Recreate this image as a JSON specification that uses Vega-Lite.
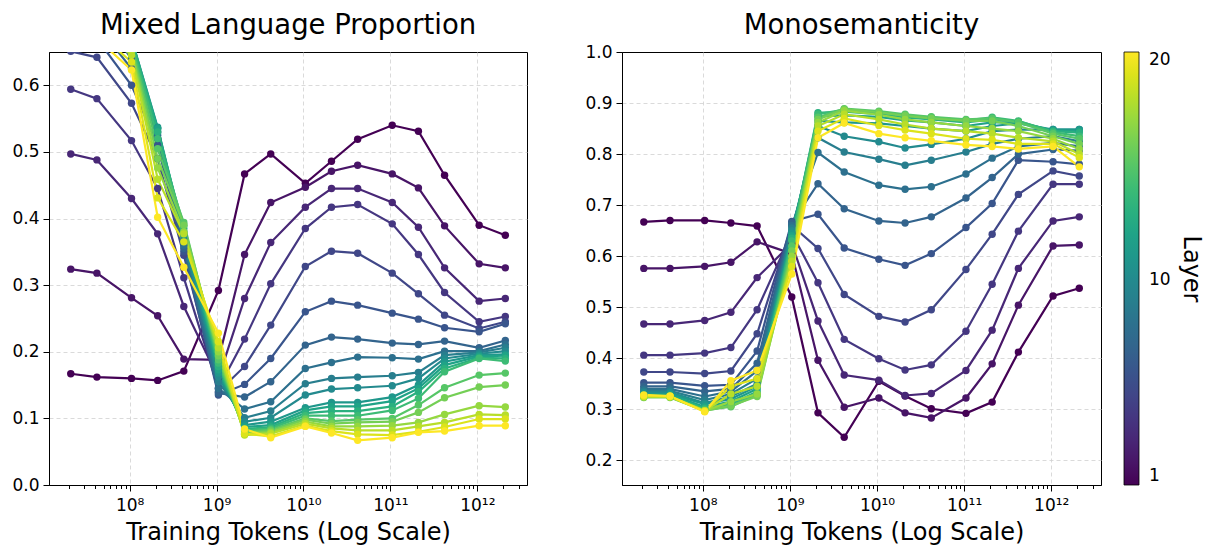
{
"$schema":"https://vega.github.io/schema/vega-lite/v6.json",
"padding":{"left":11,"top":11,"right":5,"bottom":5},
"config":{"font":"DejaVu Sans","view":{"stroke":"#000","strokeWidth":1},
"axis":{"labelFont":"DejaVu Sans","labelFontSize":17,"labelColor":"#000","tickColor":"#000","domainColor":"#000","gridColor":"#d0d0d0","gridDash":[4,3],"gridWidth":0.8,"titleFont":"DejaVu Sans","titleFontSize":24,"titleFontWeight":"normal","titleColor":"#000"},
"legend":{"labelFont":"DejaVu Sans","titleFont":"DejaVu Sans","labelColor":"#000","titleColor":"#000"}},
"datasets":{
"mixed":[
{"layer":1,"tokens":2.1e7,"value":0.167},{"layer":1,"tokens":4.2e7,"value":0.162},{"layer":1,"tokens":1.05e8,"value":0.160},{"layer":1,"tokens":2.1e8,"value":0.157},{"layer":1,"tokens":4.2e8,"value":0.171},{"layer":1,"tokens":1.05e9,"value":0.292},{"layer":1,"tokens":2.1e9,"value":0.467},{"layer":1,"tokens":4.2e9,"value":0.497},{"layer":1,"tokens":1.05e10,"value":0.453},{"layer":1,"tokens":2.1e10,"value":0.486},{"layer":1,"tokens":4.2e10,"value":0.519},{"layer":1,"tokens":1.05e11,"value":0.540},{"layer":1,"tokens":2.1e11,"value":0.531},{"layer":1,"tokens":4.2e11,"value":0.465},{"layer":1,"tokens":1.05e12,"value":0.390},{"layer":1,"tokens":2.1e12,"value":0.375},
{"layer":2,"tokens":2.1e7,"value":0.324},{"layer":2,"tokens":4.2e7,"value":0.318},{"layer":2,"tokens":1.05e8,"value":0.281},{"layer":2,"tokens":2.1e8,"value":0.254},{"layer":2,"tokens":4.2e8,"value":0.189},{"layer":2,"tokens":1.05e9,"value":0.188},{"layer":2,"tokens":2.1e9,"value":0.346},{"layer":2,"tokens":4.2e9,"value":0.424},{"layer":2,"tokens":1.05e10,"value":0.447},{"layer":2,"tokens":2.1e10,"value":0.471},{"layer":2,"tokens":4.2e10,"value":0.480},{"layer":2,"tokens":1.05e11,"value":0.467},{"layer":2,"tokens":2.1e11,"value":0.446},{"layer":2,"tokens":4.2e11,"value":0.389},{"layer":2,"tokens":1.05e12,"value":0.332},{"layer":2,"tokens":2.1e12,"value":0.326},
{"layer":3,"tokens":2.1e7,"value":0.497},{"layer":3,"tokens":4.2e7,"value":0.488},{"layer":3,"tokens":1.05e8,"value":0.430},{"layer":3,"tokens":2.1e8,"value":0.377},{"layer":3,"tokens":4.2e8,"value":0.268},{"layer":3,"tokens":1.05e9,"value":0.160},{"layer":3,"tokens":2.1e9,"value":0.280},{"layer":3,"tokens":4.2e9,"value":0.364},{"layer":3,"tokens":1.05e10,"value":0.417},{"layer":3,"tokens":2.1e10,"value":0.445},{"layer":3,"tokens":4.2e10,"value":0.445},{"layer":3,"tokens":1.05e11,"value":0.424},{"layer":3,"tokens":2.1e11,"value":0.387},{"layer":3,"tokens":4.2e11,"value":0.326},{"layer":3,"tokens":1.05e12,"value":0.276},{"layer":3,"tokens":2.1e12,"value":0.280},
{"layer":4,"tokens":2.1e7,"value":0.594},{"layer":4,"tokens":4.2e7,"value":0.580},{"layer":4,"tokens":1.05e8,"value":0.517},{"layer":4,"tokens":2.1e8,"value":0.445},{"layer":4,"tokens":4.2e8,"value":0.311},{"layer":4,"tokens":1.05e9,"value":0.145},{"layer":4,"tokens":2.1e9,"value":0.219},{"layer":4,"tokens":4.2e9,"value":0.302},{"layer":4,"tokens":1.05e10,"value":0.385},{"layer":4,"tokens":2.1e10,"value":0.417},{"layer":4,"tokens":4.2e10,"value":0.421},{"layer":4,"tokens":1.05e11,"value":0.392},{"layer":4,"tokens":2.1e11,"value":0.346},{"layer":4,"tokens":4.2e11,"value":0.289},{"layer":4,"tokens":1.05e12,"value":0.245},{"layer":4,"tokens":2.1e12,"value":0.253},
{"layer":5,"tokens":2.1e7,"value":0.651},{"layer":5,"tokens":4.2e7,"value":0.642},{"layer":5,"tokens":1.05e8,"value":0.573},{"layer":5,"tokens":2.1e8,"value":0.490},{"layer":5,"tokens":4.2e8,"value":0.345},{"layer":5,"tokens":1.05e9,"value":0.140},{"layer":5,"tokens":2.1e9,"value":0.178},{"layer":5,"tokens":4.2e9,"value":0.240},{"layer":5,"tokens":1.05e10,"value":0.328},{"layer":5,"tokens":2.1e10,"value":0.351},{"layer":5,"tokens":4.2e10,"value":0.348},{"layer":5,"tokens":1.05e11,"value":0.318},{"layer":5,"tokens":2.1e11,"value":0.287},{"layer":5,"tokens":4.2e11,"value":0.255},{"layer":5,"tokens":1.05e12,"value":0.235},{"layer":5,"tokens":2.1e12,"value":0.245},
{"layer":6,"tokens":2.1e7,"value":0.680},{"layer":6,"tokens":4.2e7,"value":0.670},{"layer":6,"tokens":1.05e8,"value":0.600},{"layer":6,"tokens":2.1e8,"value":0.510},{"layer":6,"tokens":4.2e8,"value":0.350},{"layer":6,"tokens":1.05e9,"value":0.135},{"layer":6,"tokens":2.1e9,"value":0.151},{"layer":6,"tokens":4.2e9,"value":0.190},{"layer":6,"tokens":1.05e10,"value":0.260},{"layer":6,"tokens":2.1e10,"value":0.276},{"layer":6,"tokens":4.2e10,"value":0.270},{"layer":6,"tokens":1.05e11,"value":0.258},{"layer":6,"tokens":2.1e11,"value":0.249},{"layer":6,"tokens":4.2e11,"value":0.236},{"layer":6,"tokens":1.05e12,"value":0.230},{"layer":6,"tokens":2.1e12,"value":0.242},
{"layer":7,"tokens":2.1e7,"value":0.700},{"layer":7,"tokens":4.2e7,"value":0.690},{"layer":7,"tokens":1.05e8,"value":0.625},{"layer":7,"tokens":2.1e8,"value":0.520},{"layer":7,"tokens":4.2e8,"value":0.355},{"layer":7,"tokens":1.05e9,"value":0.138},{"layer":7,"tokens":2.1e9,"value":0.132},{"layer":7,"tokens":4.2e9,"value":0.155},{"layer":7,"tokens":1.05e10,"value":0.210},{"layer":7,"tokens":2.1e10,"value":0.222},{"layer":7,"tokens":4.2e10,"value":0.219},{"layer":7,"tokens":1.05e11,"value":0.213},{"layer":7,"tokens":2.1e11,"value":0.211},{"layer":7,"tokens":4.2e11,"value":0.216},{"layer":7,"tokens":1.05e12,"value":0.206},{"layer":7,"tokens":2.1e12,"value":0.217},
{"layer":8,"tokens":2.1e7,"value":0.720},{"layer":8,"tokens":4.2e7,"value":0.710},{"layer":8,"tokens":1.05e8,"value":0.640},{"layer":8,"tokens":2.1e8,"value":0.525},{"layer":8,"tokens":4.2e8,"value":0.360},{"layer":8,"tokens":1.05e9,"value":0.145},{"layer":8,"tokens":2.1e9,"value":0.114},{"layer":8,"tokens":4.2e9,"value":0.125},{"layer":8,"tokens":1.05e10,"value":0.175},{"layer":8,"tokens":2.1e10,"value":0.184},{"layer":8,"tokens":4.2e10,"value":0.192},{"layer":8,"tokens":1.05e11,"value":0.191},{"layer":8,"tokens":2.1e11,"value":0.189},{"layer":8,"tokens":4.2e11,"value":0.201},{"layer":8,"tokens":1.05e12,"value":0.201},{"layer":8,"tokens":2.1e12,"value":0.211},
{"layer":9,"tokens":2.1e7,"value":0.730},{"layer":9,"tokens":4.2e7,"value":0.720},{"layer":9,"tokens":1.05e8,"value":0.650},{"layer":9,"tokens":2.1e8,"value":0.530},{"layer":9,"tokens":4.2e8,"value":0.365},{"layer":9,"tokens":1.05e9,"value":0.155},{"layer":9,"tokens":2.1e9,"value":0.101},{"layer":9,"tokens":4.2e9,"value":0.111},{"layer":9,"tokens":1.05e10,"value":0.152},{"layer":9,"tokens":2.1e10,"value":0.160},{"layer":9,"tokens":4.2e10,"value":0.162},{"layer":9,"tokens":1.05e11,"value":0.164},{"layer":9,"tokens":2.1e11,"value":0.169},{"layer":9,"tokens":4.2e11,"value":0.195},{"layer":9,"tokens":1.05e12,"value":0.199},{"layer":9,"tokens":2.1e12,"value":0.206},
{"layer":10,"tokens":2.1e7,"value":0.740},{"layer":10,"tokens":4.2e7,"value":0.730},{"layer":10,"tokens":1.05e8,"value":0.660},{"layer":10,"tokens":2.1e8,"value":0.535},{"layer":10,"tokens":4.2e8,"value":0.370},{"layer":10,"tokens":1.05e9,"value":0.162},{"layer":10,"tokens":2.1e9,"value":0.095},{"layer":10,"tokens":4.2e9,"value":0.101},{"layer":10,"tokens":1.05e10,"value":0.135},{"layer":10,"tokens":2.1e10,"value":0.144},{"layer":10,"tokens":4.2e10,"value":0.146},{"layer":10,"tokens":1.05e11,"value":0.149},{"layer":10,"tokens":2.1e11,"value":0.160},{"layer":10,"tokens":4.2e11,"value":0.190},{"layer":10,"tokens":1.05e12,"value":0.197},{"layer":10,"tokens":2.1e12,"value":0.201},
{"layer":11,"tokens":2.1e7,"value":0.750},{"layer":11,"tokens":4.2e7,"value":0.740},{"layer":11,"tokens":1.05e8,"value":0.670},{"layer":11,"tokens":2.1e8,"value":0.537},{"layer":11,"tokens":4.2e8,"value":0.375},{"layer":11,"tokens":1.05e9,"value":0.168},{"layer":11,"tokens":2.1e9,"value":0.090},{"layer":11,"tokens":4.2e9,"value":0.095},{"layer":11,"tokens":1.05e10,"value":0.116},{"layer":11,"tokens":2.1e10,"value":0.124},{"layer":11,"tokens":4.2e10,"value":0.124},{"layer":11,"tokens":1.05e11,"value":0.132},{"layer":11,"tokens":2.1e11,"value":0.150},{"layer":11,"tokens":4.2e11,"value":0.185},{"layer":11,"tokens":1.05e12,"value":0.195},{"layer":11,"tokens":2.1e12,"value":0.196},
{"layer":12,"tokens":2.1e7,"value":0.750},{"layer":12,"tokens":4.2e7,"value":0.740},{"layer":12,"tokens":1.05e8,"value":0.670},{"layer":12,"tokens":2.1e8,"value":0.535},{"layer":12,"tokens":4.2e8,"value":0.380},{"layer":12,"tokens":1.05e9,"value":0.173},{"layer":12,"tokens":2.1e9,"value":0.087},{"layer":12,"tokens":4.2e9,"value":0.090},{"layer":12,"tokens":1.05e10,"value":0.112},{"layer":12,"tokens":2.1e10,"value":0.118},{"layer":12,"tokens":4.2e10,"value":0.118},{"layer":12,"tokens":1.05e11,"value":0.126},{"layer":12,"tokens":2.1e11,"value":0.145},{"layer":12,"tokens":4.2e11,"value":0.180},{"layer":12,"tokens":1.05e12,"value":0.193},{"layer":12,"tokens":2.1e12,"value":0.194},
{"layer":13,"tokens":2.1e7,"value":0.750},{"layer":13,"tokens":4.2e7,"value":0.740},{"layer":13,"tokens":1.05e8,"value":0.670},{"layer":13,"tokens":2.1e8,"value":0.530},{"layer":13,"tokens":4.2e8,"value":0.385},{"layer":13,"tokens":1.05e9,"value":0.178},{"layer":13,"tokens":2.1e9,"value":0.084},{"layer":13,"tokens":4.2e9,"value":0.087},{"layer":13,"tokens":1.05e10,"value":0.108},{"layer":13,"tokens":2.1e10,"value":0.111},{"layer":13,"tokens":4.2e10,"value":0.111},{"layer":13,"tokens":1.05e11,"value":0.118},{"layer":13,"tokens":2.1e11,"value":0.140},{"layer":13,"tokens":4.2e11,"value":0.175},{"layer":13,"tokens":1.05e12,"value":0.191},{"layer":13,"tokens":2.1e12,"value":0.190},
{"layer":14,"tokens":2.1e7,"value":0.740},{"layer":14,"tokens":4.2e7,"value":0.730},{"layer":14,"tokens":1.05e8,"value":0.665},{"layer":14,"tokens":2.1e8,"value":0.520},{"layer":14,"tokens":4.2e8,"value":0.390},{"layer":14,"tokens":1.05e9,"value":0.183},{"layer":14,"tokens":2.1e9,"value":0.082},{"layer":14,"tokens":4.2e9,"value":0.085},{"layer":14,"tokens":1.05e10,"value":0.104},{"layer":14,"tokens":2.1e10,"value":0.104},{"layer":14,"tokens":4.2e10,"value":0.104},{"layer":14,"tokens":1.05e11,"value":0.112},{"layer":14,"tokens":2.1e11,"value":0.130},{"layer":14,"tokens":4.2e11,"value":0.170},{"layer":14,"tokens":1.05e12,"value":0.190},{"layer":14,"tokens":2.1e12,"value":0.186},
{"layer":15,"tokens":2.1e7,"value":0.730},{"layer":15,"tokens":4.2e7,"value":0.720},{"layer":15,"tokens":1.05e8,"value":0.660},{"layer":15,"tokens":2.1e8,"value":0.505},{"layer":15,"tokens":4.2e8,"value":0.394},{"layer":15,"tokens":1.05e9,"value":0.188},{"layer":15,"tokens":2.1e9,"value":0.080},{"layer":15,"tokens":4.2e9,"value":0.083},{"layer":15,"tokens":1.05e10,"value":0.100},{"layer":15,"tokens":2.1e10,"value":0.096},{"layer":15,"tokens":4.2e10,"value":0.098},{"layer":15,"tokens":1.05e11,"value":0.100},{"layer":15,"tokens":2.1e11,"value":0.120},{"layer":15,"tokens":4.2e11,"value":0.146},{"layer":15,"tokens":1.05e12,"value":0.165},{"layer":15,"tokens":2.1e12,"value":0.168},
{"layer":16,"tokens":2.1e7,"value":0.720},{"layer":16,"tokens":4.2e7,"value":0.710},{"layer":16,"tokens":1.05e8,"value":0.655},{"layer":16,"tokens":2.1e8,"value":0.490},{"layer":16,"tokens":4.2e8,"value":0.390},{"layer":16,"tokens":1.05e9,"value":0.194},{"layer":16,"tokens":2.1e9,"value":0.078},{"layer":16,"tokens":4.2e9,"value":0.081},{"layer":16,"tokens":1.05e10,"value":0.098},{"layer":16,"tokens":2.1e10,"value":0.092},{"layer":16,"tokens":4.2e10,"value":0.094},{"layer":16,"tokens":1.05e11,"value":0.095},{"layer":16,"tokens":2.1e11,"value":0.109},{"layer":16,"tokens":4.2e11,"value":0.131},{"layer":16,"tokens":1.05e12,"value":0.147},{"layer":16,"tokens":2.1e12,"value":0.150},
{"layer":17,"tokens":2.1e7,"value":0.710},{"layer":17,"tokens":4.2e7,"value":0.700},{"layer":17,"tokens":1.05e8,"value":0.650},{"layer":17,"tokens":2.1e8,"value":0.476},{"layer":17,"tokens":4.2e8,"value":0.380},{"layer":17,"tokens":1.05e9,"value":0.200},{"layer":17,"tokens":2.1e9,"value":0.076},{"layer":17,"tokens":4.2e9,"value":0.079},{"layer":17,"tokens":1.05e10,"value":0.095},{"layer":17,"tokens":2.1e10,"value":0.088},{"layer":17,"tokens":4.2e10,"value":0.088},{"layer":17,"tokens":1.05e11,"value":0.089},{"layer":17,"tokens":2.1e11,"value":0.094},{"layer":17,"tokens":4.2e11,"value":0.106},{"layer":17,"tokens":1.05e12,"value":0.119},{"layer":17,"tokens":2.1e12,"value":0.117},
{"layer":18,"tokens":2.1e7,"value":0.700},{"layer":18,"tokens":4.2e7,"value":0.690},{"layer":18,"tokens":1.05e8,"value":0.645},{"layer":18,"tokens":2.1e8,"value":0.459},{"layer":18,"tokens":4.2e8,"value":0.377},{"layer":18,"tokens":1.05e9,"value":0.206},{"layer":18,"tokens":2.1e9,"value":0.075},{"layer":18,"tokens":4.2e9,"value":0.077},{"layer":18,"tokens":1.05e10,"value":0.092},{"layer":18,"tokens":2.1e10,"value":0.085},{"layer":18,"tokens":4.2e10,"value":0.082},{"layer":18,"tokens":1.05e11,"value":0.082},{"layer":18,"tokens":2.1e11,"value":0.088},{"layer":18,"tokens":4.2e11,"value":0.094},{"layer":18,"tokens":1.05e12,"value":0.106},{"layer":18,"tokens":2.1e12,"value":0.105},
{"layer":19,"tokens":2.1e7,"value":0.690},{"layer":19,"tokens":4.2e7,"value":0.680},{"layer":19,"tokens":1.05e8,"value":0.635},{"layer":19,"tokens":2.1e8,"value":0.431},{"layer":19,"tokens":4.2e8,"value":0.365},{"layer":19,"tokens":1.05e9,"value":0.215},{"layer":19,"tokens":2.1e9,"value":0.077},{"layer":19,"tokens":4.2e9,"value":0.073},{"layer":19,"tokens":1.05e10,"value":0.089},{"layer":19,"tokens":2.1e10,"value":0.081},{"layer":19,"tokens":4.2e10,"value":0.076},{"layer":19,"tokens":1.05e11,"value":0.075},{"layer":19,"tokens":2.1e11,"value":0.080},{"layer":19,"tokens":4.2e11,"value":0.087},{"layer":19,"tokens":1.05e12,"value":0.099},{"layer":19,"tokens":2.1e12,"value":0.099},
{"layer":20,"tokens":2.1e7,"value":0.680},{"layer":20,"tokens":4.2e7,"value":0.670},{"layer":20,"tokens":1.05e8,"value":0.623},{"layer":20,"tokens":2.1e8,"value":0.402},{"layer":20,"tokens":4.2e8,"value":0.327},{"layer":20,"tokens":1.05e9,"value":0.228},{"layer":20,"tokens":2.1e9,"value":0.084},{"layer":20,"tokens":4.2e9,"value":0.071},{"layer":20,"tokens":1.05e10,"value":0.088},{"layer":20,"tokens":2.1e10,"value":0.078},{"layer":20,"tokens":4.2e10,"value":0.067},{"layer":20,"tokens":1.05e11,"value":0.071},{"layer":20,"tokens":2.1e11,"value":0.079},{"layer":20,"tokens":4.2e11,"value":0.081},{"layer":20,"tokens":1.05e12,"value":0.089},{"layer":20,"tokens":2.1e12,"value":0.089}
],
"mono":[
{"layer":1,"tokens":2.1e7,"value":0.667},{"layer":1,"tokens":4.2e7,"value":0.670},{"layer":1,"tokens":1.05e8,"value":0.670},{"layer":1,"tokens":2.1e8,"value":0.665},{"layer":1,"tokens":4.2e8,"value":0.659},{"layer":1,"tokens":1.05e9,"value":0.520},{"layer":1,"tokens":2.1e9,"value":0.293},{"layer":1,"tokens":4.2e9,"value":0.245},{"layer":1,"tokens":1.05e10,"value":0.355},{"layer":1,"tokens":2.1e10,"value":0.326},{"layer":1,"tokens":4.2e10,"value":0.301},{"layer":1,"tokens":1.05e11,"value":0.292},{"layer":1,"tokens":2.1e11,"value":0.314},{"layer":1,"tokens":4.2e11,"value":0.412},{"layer":1,"tokens":1.05e12,"value":0.522},{"layer":1,"tokens":2.1e12,"value":0.537},
{"layer":2,"tokens":2.1e7,"value":0.576},{"layer":2,"tokens":4.2e7,"value":0.576},{"layer":2,"tokens":1.05e8,"value":0.580},{"layer":2,"tokens":2.1e8,"value":0.588},{"layer":2,"tokens":4.2e8,"value":0.628},{"layer":2,"tokens":1.05e9,"value":0.605},{"layer":2,"tokens":2.1e9,"value":0.396},{"layer":2,"tokens":4.2e9,"value":0.304},{"layer":2,"tokens":1.05e10,"value":0.322},{"layer":2,"tokens":2.1e10,"value":0.293},{"layer":2,"tokens":4.2e10,"value":0.283},{"layer":2,"tokens":1.05e11,"value":0.322},{"layer":2,"tokens":2.1e11,"value":0.389},{"layer":2,"tokens":4.2e11,"value":0.504},{"layer":2,"tokens":1.05e12,"value":0.620},{"layer":2,"tokens":2.1e12,"value":0.622},
{"layer":3,"tokens":2.1e7,"value":0.467},{"layer":3,"tokens":4.2e7,"value":0.467},{"layer":3,"tokens":1.05e8,"value":0.474},{"layer":3,"tokens":2.1e8,"value":0.490},{"layer":3,"tokens":4.2e8,"value":0.558},{"layer":3,"tokens":1.05e9,"value":0.625},{"layer":3,"tokens":2.1e9,"value":0.473},{"layer":3,"tokens":4.2e9,"value":0.367},{"layer":3,"tokens":1.05e10,"value":0.357},{"layer":3,"tokens":2.1e10,"value":0.327},{"layer":3,"tokens":4.2e10,"value":0.331},{"layer":3,"tokens":1.05e11,"value":0.376},{"layer":3,"tokens":2.1e11,"value":0.455},{"layer":3,"tokens":4.2e11,"value":0.576},{"layer":3,"tokens":1.05e12,"value":0.669},{"layer":3,"tokens":2.1e12,"value":0.677},
{"layer":4,"tokens":2.1e7,"value":0.406},{"layer":4,"tokens":4.2e7,"value":0.406},{"layer":4,"tokens":1.05e8,"value":0.410},{"layer":4,"tokens":2.1e8,"value":0.421},{"layer":4,"tokens":4.2e8,"value":0.495},{"layer":4,"tokens":1.05e9,"value":0.645},{"layer":4,"tokens":2.1e9,"value":0.548},{"layer":4,"tokens":4.2e9,"value":0.437},{"layer":4,"tokens":1.05e10,"value":0.399},{"layer":4,"tokens":2.1e10,"value":0.377},{"layer":4,"tokens":4.2e10,"value":0.387},{"layer":4,"tokens":1.05e11,"value":0.453},{"layer":4,"tokens":2.1e11,"value":0.545},{"layer":4,"tokens":4.2e11,"value":0.649},{"layer":4,"tokens":1.05e12,"value":0.741},{"layer":4,"tokens":2.1e12,"value":0.741},
{"layer":5,"tokens":2.1e7,"value":0.373},{"layer":5,"tokens":4.2e7,"value":0.373},{"layer":5,"tokens":1.05e8,"value":0.370},{"layer":5,"tokens":2.1e8,"value":0.375},{"layer":5,"tokens":4.2e8,"value":0.448},{"layer":5,"tokens":1.05e9,"value":0.660},{"layer":5,"tokens":2.1e9,"value":0.615},{"layer":5,"tokens":4.2e9,"value":0.525},{"layer":5,"tokens":1.05e10,"value":0.482},{"layer":5,"tokens":2.1e10,"value":0.471},{"layer":5,"tokens":4.2e10,"value":0.495},{"layer":5,"tokens":1.05e11,"value":0.574},{"layer":5,"tokens":2.1e11,"value":0.643},{"layer":5,"tokens":4.2e11,"value":0.721},{"layer":5,"tokens":1.05e12,"value":0.767},{"layer":5,"tokens":2.1e12,"value":0.757},
{"layer":6,"tokens":2.1e7,"value":0.352},{"layer":6,"tokens":4.2e7,"value":0.352},{"layer":6,"tokens":1.05e8,"value":0.346},{"layer":6,"tokens":2.1e8,"value":0.348},{"layer":6,"tokens":4.2e8,"value":0.414},{"layer":6,"tokens":1.05e9,"value":0.668},{"layer":6,"tokens":2.1e9,"value":0.682},{"layer":6,"tokens":4.2e9,"value":0.616},{"layer":6,"tokens":1.05e10,"value":0.594},{"layer":6,"tokens":2.1e10,"value":0.582},{"layer":6,"tokens":4.2e10,"value":0.605},{"layer":6,"tokens":1.05e11,"value":0.656},{"layer":6,"tokens":2.1e11,"value":0.703},{"layer":6,"tokens":4.2e11,"value":0.788},{"layer":6,"tokens":1.05e12,"value":0.785},{"layer":6,"tokens":2.1e12,"value":0.780},
{"layer":7,"tokens":2.1e7,"value":0.345},{"layer":7,"tokens":4.2e7,"value":0.345},{"layer":7,"tokens":1.05e8,"value":0.335},{"layer":7,"tokens":2.1e8,"value":0.340},{"layer":7,"tokens":4.2e8,"value":0.390},{"layer":7,"tokens":1.05e9,"value":0.665},{"layer":7,"tokens":2.1e9,"value":0.742},{"layer":7,"tokens":4.2e9,"value":0.693},{"layer":7,"tokens":1.05e10,"value":0.669},{"layer":7,"tokens":2.1e10,"value":0.665},{"layer":7,"tokens":4.2e10,"value":0.677},{"layer":7,"tokens":1.05e11,"value":0.714},{"layer":7,"tokens":2.1e11,"value":0.754},{"layer":7,"tokens":4.2e11,"value":0.800},{"layer":7,"tokens":1.05e12,"value":0.809},{"layer":7,"tokens":2.1e12,"value":0.807},
{"layer":8,"tokens":2.1e7,"value":0.340},{"layer":8,"tokens":4.2e7,"value":0.340},{"layer":8,"tokens":1.05e8,"value":0.325},{"layer":8,"tokens":2.1e8,"value":0.335},{"layer":8,"tokens":4.2e8,"value":0.375},{"layer":8,"tokens":1.05e9,"value":0.660},{"layer":8,"tokens":2.1e9,"value":0.803},{"layer":8,"tokens":4.2e9,"value":0.765},{"layer":8,"tokens":1.05e10,"value":0.739},{"layer":8,"tokens":2.1e10,"value":0.731},{"layer":8,"tokens":4.2e10,"value":0.736},{"layer":8,"tokens":1.05e11,"value":0.761},{"layer":8,"tokens":2.1e11,"value":0.792},{"layer":8,"tokens":4.2e11,"value":0.815},{"layer":8,"tokens":1.05e12,"value":0.822},{"layer":8,"tokens":2.1e12,"value":0.815},
{"layer":9,"tokens":2.1e7,"value":0.336},{"layer":9,"tokens":4.2e7,"value":0.336},{"layer":9,"tokens":1.05e8,"value":0.318},{"layer":9,"tokens":2.1e8,"value":0.330},{"layer":9,"tokens":4.2e8,"value":0.360},{"layer":9,"tokens":1.05e9,"value":0.655},{"layer":9,"tokens":2.1e9,"value":0.832},{"layer":9,"tokens":4.2e9,"value":0.804},{"layer":9,"tokens":1.05e10,"value":0.790},{"layer":9,"tokens":2.1e10,"value":0.778},{"layer":9,"tokens":4.2e10,"value":0.788},{"layer":9,"tokens":1.05e11,"value":0.804},{"layer":9,"tokens":2.1e11,"value":0.820},{"layer":9,"tokens":4.2e11,"value":0.830},{"layer":9,"tokens":1.05e12,"value":0.835},{"layer":9,"tokens":2.1e12,"value":0.825},
{"layer":10,"tokens":2.1e7,"value":0.333},{"layer":10,"tokens":4.2e7,"value":0.333},{"layer":10,"tokens":1.05e8,"value":0.312},{"layer":10,"tokens":2.1e8,"value":0.325},{"layer":10,"tokens":4.2e8,"value":0.350},{"layer":10,"tokens":1.05e9,"value":0.650},{"layer":10,"tokens":2.1e9,"value":0.855},{"layer":10,"tokens":4.2e9,"value":0.835},{"layer":10,"tokens":1.05e10,"value":0.824},{"layer":10,"tokens":2.1e10,"value":0.812},{"layer":10,"tokens":4.2e10,"value":0.819},{"layer":10,"tokens":1.05e11,"value":0.830},{"layer":10,"tokens":2.1e11,"value":0.845},{"layer":10,"tokens":4.2e11,"value":0.848},{"layer":10,"tokens":1.05e12,"value":0.848},{"layer":10,"tokens":2.1e12,"value":0.848},
{"layer":11,"tokens":2.1e7,"value":0.330},{"layer":11,"tokens":4.2e7,"value":0.330},{"layer":11,"tokens":1.05e8,"value":0.310},{"layer":11,"tokens":2.1e8,"value":0.320},{"layer":11,"tokens":4.2e8,"value":0.345},{"layer":11,"tokens":1.05e9,"value":0.645},{"layer":11,"tokens":2.1e9,"value":0.865},{"layer":11,"tokens":4.2e9,"value":0.862},{"layer":11,"tokens":1.05e10,"value":0.860},{"layer":11,"tokens":2.1e10,"value":0.855},{"layer":11,"tokens":4.2e10,"value":0.850},{"layer":11,"tokens":1.05e11,"value":0.845},{"layer":11,"tokens":2.1e11,"value":0.855},{"layer":11,"tokens":4.2e11,"value":0.860},{"layer":11,"tokens":1.05e12,"value":0.848},{"layer":11,"tokens":2.1e12,"value":0.848},
{"layer":12,"tokens":2.1e7,"value":0.328},{"layer":12,"tokens":4.2e7,"value":0.328},{"layer":12,"tokens":1.05e8,"value":0.305},{"layer":12,"tokens":2.1e8,"value":0.315},{"layer":12,"tokens":4.2e8,"value":0.340},{"layer":12,"tokens":1.05e9,"value":0.640},{"layer":12,"tokens":2.1e9,"value":0.874},{"layer":12,"tokens":4.2e9,"value":0.876},{"layer":12,"tokens":1.05e10,"value":0.873},{"layer":12,"tokens":2.1e10,"value":0.866},{"layer":12,"tokens":4.2e10,"value":0.862},{"layer":12,"tokens":1.05e11,"value":0.855},{"layer":12,"tokens":2.1e11,"value":0.862},{"layer":12,"tokens":4.2e11,"value":0.862},{"layer":12,"tokens":1.05e12,"value":0.846},{"layer":12,"tokens":2.1e12,"value":0.845},
{"layer":13,"tokens":2.1e7,"value":0.326},{"layer":13,"tokens":4.2e7,"value":0.326},{"layer":13,"tokens":1.05e8,"value":0.302},{"layer":13,"tokens":2.1e8,"value":0.310},{"layer":13,"tokens":4.2e8,"value":0.335},{"layer":13,"tokens":1.05e9,"value":0.635},{"layer":13,"tokens":2.1e9,"value":0.881},{"layer":13,"tokens":4.2e9,"value":0.883},{"layer":13,"tokens":1.05e10,"value":0.878},{"layer":13,"tokens":2.1e10,"value":0.872},{"layer":13,"tokens":4.2e10,"value":0.868},{"layer":13,"tokens":1.05e11,"value":0.862},{"layer":13,"tokens":2.1e11,"value":0.868},{"layer":13,"tokens":4.2e11,"value":0.864},{"layer":13,"tokens":1.05e12,"value":0.845},{"layer":13,"tokens":2.1e12,"value":0.842},
{"layer":14,"tokens":2.1e7,"value":0.325},{"layer":14,"tokens":4.2e7,"value":0.325},{"layer":14,"tokens":1.05e8,"value":0.300},{"layer":14,"tokens":2.1e8,"value":0.307},{"layer":14,"tokens":4.2e8,"value":0.330},{"layer":14,"tokens":1.05e9,"value":0.630},{"layer":14,"tokens":2.1e9,"value":0.878},{"layer":14,"tokens":4.2e9,"value":0.887},{"layer":14,"tokens":1.05e10,"value":0.881},{"layer":14,"tokens":2.1e10,"value":0.876},{"layer":14,"tokens":4.2e10,"value":0.872},{"layer":14,"tokens":1.05e11,"value":0.866},{"layer":14,"tokens":2.1e11,"value":0.872},{"layer":14,"tokens":4.2e11,"value":0.865},{"layer":14,"tokens":1.05e12,"value":0.843},{"layer":14,"tokens":2.1e12,"value":0.835},
{"layer":15,"tokens":2.1e7,"value":0.324},{"layer":15,"tokens":4.2e7,"value":0.324},{"layer":15,"tokens":1.05e8,"value":0.298},{"layer":15,"tokens":2.1e8,"value":0.305},{"layer":15,"tokens":4.2e8,"value":0.328},{"layer":15,"tokens":1.05e9,"value":0.620},{"layer":15,"tokens":2.1e9,"value":0.872},{"layer":15,"tokens":4.2e9,"value":0.889},{"layer":15,"tokens":1.05e10,"value":0.884},{"layer":15,"tokens":2.1e10,"value":0.878},{"layer":15,"tokens":4.2e10,"value":0.873},{"layer":15,"tokens":1.05e11,"value":0.868},{"layer":15,"tokens":2.1e11,"value":0.870},{"layer":15,"tokens":4.2e11,"value":0.862},{"layer":15,"tokens":1.05e12,"value":0.840},{"layer":15,"tokens":2.1e12,"value":0.830},
{"layer":16,"tokens":2.1e7,"value":0.323},{"layer":16,"tokens":4.2e7,"value":0.323},{"layer":16,"tokens":1.05e8,"value":0.297},{"layer":16,"tokens":2.1e8,"value":0.307},{"layer":16,"tokens":4.2e8,"value":0.325},{"layer":16,"tokens":1.05e9,"value":0.610},{"layer":16,"tokens":2.1e9,"value":0.868},{"layer":16,"tokens":4.2e9,"value":0.888},{"layer":16,"tokens":1.05e10,"value":0.882},{"layer":16,"tokens":2.1e10,"value":0.875},{"layer":16,"tokens":4.2e10,"value":0.870},{"layer":16,"tokens":1.05e11,"value":0.865},{"layer":16,"tokens":2.1e11,"value":0.865},{"layer":16,"tokens":4.2e11,"value":0.855},{"layer":16,"tokens":1.05e12,"value":0.835},{"layer":16,"tokens":2.1e12,"value":0.820},
{"layer":17,"tokens":2.1e7,"value":0.324},{"layer":17,"tokens":4.2e7,"value":0.324},{"layer":17,"tokens":1.05e8,"value":0.297},{"layer":17,"tokens":2.1e8,"value":0.315},{"layer":17,"tokens":4.2e8,"value":0.330},{"layer":17,"tokens":1.05e9,"value":0.600},{"layer":17,"tokens":2.1e9,"value":0.862},{"layer":17,"tokens":4.2e9,"value":0.885},{"layer":17,"tokens":1.05e10,"value":0.877},{"layer":17,"tokens":2.1e10,"value":0.868},{"layer":17,"tokens":4.2e10,"value":0.862},{"layer":17,"tokens":1.05e11,"value":0.855},{"layer":17,"tokens":2.1e11,"value":0.850},{"layer":17,"tokens":4.2e11,"value":0.845},{"layer":17,"tokens":1.05e12,"value":0.830},{"layer":17,"tokens":2.1e12,"value":0.810},
{"layer":18,"tokens":2.1e7,"value":0.325},{"layer":18,"tokens":4.2e7,"value":0.325},{"layer":18,"tokens":1.05e8,"value":0.297},{"layer":18,"tokens":2.1e8,"value":0.330},{"layer":18,"tokens":4.2e8,"value":0.345},{"layer":18,"tokens":1.05e9,"value":0.590},{"layer":18,"tokens":2.1e9,"value":0.855},{"layer":18,"tokens":4.2e9,"value":0.878},{"layer":18,"tokens":1.05e10,"value":0.868},{"layer":18,"tokens":2.1e10,"value":0.858},{"layer":18,"tokens":4.2e10,"value":0.850},{"layer":18,"tokens":1.05e11,"value":0.845},{"layer":18,"tokens":2.1e11,"value":0.840},{"layer":18,"tokens":4.2e11,"value":0.832},{"layer":18,"tokens":1.05e12,"value":0.825},{"layer":18,"tokens":2.1e12,"value":0.800},
{"layer":19,"tokens":2.1e7,"value":0.326},{"layer":19,"tokens":4.2e7,"value":0.325},{"layer":19,"tokens":1.05e8,"value":0.296},{"layer":19,"tokens":2.1e8,"value":0.345},{"layer":19,"tokens":4.2e8,"value":0.360},{"layer":19,"tokens":1.05e9,"value":0.580},{"layer":19,"tokens":2.1e9,"value":0.845},{"layer":19,"tokens":4.2e9,"value":0.870},{"layer":19,"tokens":1.05e10,"value":0.856},{"layer":19,"tokens":2.1e10,"value":0.847},{"layer":19,"tokens":4.2e10,"value":0.840},{"layer":19,"tokens":1.05e11,"value":0.830},{"layer":19,"tokens":2.1e11,"value":0.828},{"layer":19,"tokens":4.2e11,"value":0.820},{"layer":19,"tokens":1.05e12,"value":0.820},{"layer":19,"tokens":2.1e12,"value":0.793},
{"layer":20,"tokens":2.1e7,"value":0.328},{"layer":20,"tokens":4.2e7,"value":0.326},{"layer":20,"tokens":1.05e8,"value":0.295},{"layer":20,"tokens":2.1e8,"value":0.356},{"layer":20,"tokens":4.2e8,"value":0.376},{"layer":20,"tokens":1.05e9,"value":0.565},{"layer":20,"tokens":2.1e9,"value":0.832},{"layer":20,"tokens":4.2e9,"value":0.861},{"layer":20,"tokens":1.05e10,"value":0.840},{"layer":20,"tokens":2.1e10,"value":0.832},{"layer":20,"tokens":4.2e10,"value":0.826},{"layer":20,"tokens":1.05e11,"value":0.818},{"layer":20,"tokens":2.1e11,"value":0.815},{"layer":20,"tokens":4.2e11,"value":0.810},{"layer":20,"tokens":1.05e12,"value":0.815},{"layer":20,"tokens":2.1e12,"value":0.775}
]},
"spacing":56,
"resolve":{"scale":{"y":"independent","x":"independent"}},
"hconcat":[
{"width":478,"height":433,
"title":{"text":"Mixed Language Proportion","fontSize":27.5,"fontWeight":"normal","baseline":"alphabetic","offset":-9,"color":"#000","font":"DejaVu Sans"},
"data":{"name":"mixed"},
"encoding":{
"x":{"field":"tokens","type":"quantitative","scale":{"type":"log","domain":[1.18e7,3.73e12],"nice":false},
"axis":{"values":[2e7,3e7,4e7,5e7,6e7,7e7,8e7,9e7,1e8,2e8,3e8,4e8,5e8,6e8,7e8,8e8,9e8,1e9,2e9,3e9,4e9,5e9,6e9,7e9,8e9,9e9,1e10,2e10,3e10,4e10,5e10,6e10,7e10,8e10,9e10,1e11,2e11,3e11,4e11,5e11,6e11,7e11,8e11,9e11,1e12,2e12,3e12],
"labelExpr":"datum.value == 1e8 ? '10⁸' : datum.value == 1e9 ? '10⁹' : datum.value == 1e10 ? '10¹⁰' : datum.value == 1e11 ? '10¹¹' : datum.value == 1e12 ? '10¹²' : ''",
"labelOverlap":false,"labelFlush":false,"labelPadding":6,
"tickSize":{"condition":{"test":"indexof([1e8,1e9,1e10,1e11,1e12], datum.value) >= 0","value":6},"value":3.5},
"gridOpacity":{"condition":{"test":"indexof([1e8,1e9,1e10,1e11,1e12], datum.value) >= 0","value":1},"value":0},
"title":"Training Tokens (Log Scale)","titlePadding":7}},
"y":{"field":"value","type":"quantitative","scale":{"domain":[0,0.65],"nice":false,"zero":false},
"axis":{"values":[0,0.1,0.2,0.3,0.4,0.5,0.6],"format":".1f","tickSize":6,"labelPadding":4,"title":null,
"gridOpacity":{"condition":{"test":"datum.value == 0","value":0},"value":1}}},
"detail":{"field":"layer","type":"nominal"}},
"layer":[
{"mark":{"type":"line","strokeWidth":2.2,"clip":true},
"encoding":{"stroke":{"field":"layer","type":"quantitative","scale":{"scheme":"viridis","zero":false,"nice":false},"legend":null}}},
{"mark":{"type":"point","filled":true,"size":55,"opacity":1,"strokeWidth":0,"clip":true},
"encoding":{"fill":{"field":"layer","type":"quantitative","scale":{"scheme":"viridis","domain":[1,20]},
"legend":{"type":"gradient","direction":"vertical","orient":"right","offset":22,"gradientLength":433,"gradientThickness":15,"values":[1,10,20],"labelFontSize":17,"labelOffset":10,"title":"Layer","titleFontSize":24,"titleFontWeight":"normal","titleOrient":"right","titleAnchor":"middle","titlePadding":8,"gradientStrokeColor":"#000","gradientStrokeWidth":0.8,
"encode":{"title":{"angle":{"value":-90},"baseline":{"value":"top"}}}}}}}
]},
{"width":479,"height":433,
"title":{"text":"Monosemanticity","fontSize":27.5,"fontWeight":"normal","baseline":"alphabetic","offset":-18,"color":"#000","font":"DejaVu Sans"},
"data":{"name":"mono"},
"encoding":{
"x":{"field":"tokens","type":"quantitative","scale":{"type":"log","domain":[1.18e7,3.73e12],"nice":false},
"axis":{"values":[2e7,3e7,4e7,5e7,6e7,7e7,8e7,9e7,1e8,2e8,3e8,4e8,5e8,6e8,7e8,8e8,9e8,1e9,2e9,3e9,4e9,5e9,6e9,7e9,8e9,9e9,1e10,2e10,3e10,4e10,5e10,6e10,7e10,8e10,9e10,1e11,2e11,3e11,4e11,5e11,6e11,7e11,8e11,9e11,1e12,2e12,3e12],
"labelExpr":"datum.value == 1e8 ? '10⁸' : datum.value == 1e9 ? '10⁹' : datum.value == 1e10 ? '10¹⁰' : datum.value == 1e11 ? '10¹¹' : datum.value == 1e12 ? '10¹²' : ''",
"labelOverlap":false,"labelFlush":false,"labelPadding":6,
"tickSize":{"condition":{"test":"indexof([1e8,1e9,1e10,1e11,1e12], datum.value) >= 0","value":6},"value":3.5},
"gridOpacity":{"condition":{"test":"indexof([1e8,1e9,1e10,1e11,1e12], datum.value) >= 0","value":1},"value":0},
"title":"Training Tokens (Log Scale)","titlePadding":7}},
"y":{"field":"value","type":"quantitative","scale":{"domain":[0.1516,1.0],"nice":false,"zero":false},
"axis":{"values":[0.2,0.3,0.4,0.5,0.6,0.7,0.8,0.9,1.0],"format":".1f","tickSize":6,"labelPadding":4,"title":null,
"gridOpacity":{"condition":{"test":"datum.value == 1","value":0},"value":1}}},
"detail":{"field":"layer","type":"nominal"}},
"layer":[
{"mark":{"type":"line","strokeWidth":2.2,"clip":true},
"encoding":{"stroke":{"field":"layer","type":"quantitative","scale":{"scheme":"viridis","zero":false,"nice":false},"legend":null}}},
{"mark":{"type":"point","filled":true,"size":55,"opacity":1,"strokeWidth":0,"clip":true},
"encoding":{"fill":{"field":"layer","type":"quantitative","scale":{"scheme":"viridis","domain":[1,20]},
"legend":{"type":"gradient","direction":"vertical","orient":"right","offset":22,"gradientLength":433,"gradientThickness":15,"values":[1,10,20],"labelFontSize":17,"labelOffset":10,"title":"Layer","titleFontSize":24,"titleFontWeight":"normal","titleOrient":"right","titleAnchor":"middle","titlePadding":8,"gradientStrokeColor":"#000","gradientStrokeWidth":0.8,
"encode":{"title":{"angle":{"value":-90},"baseline":{"value":"top"}}}}}}}
]}
]}
